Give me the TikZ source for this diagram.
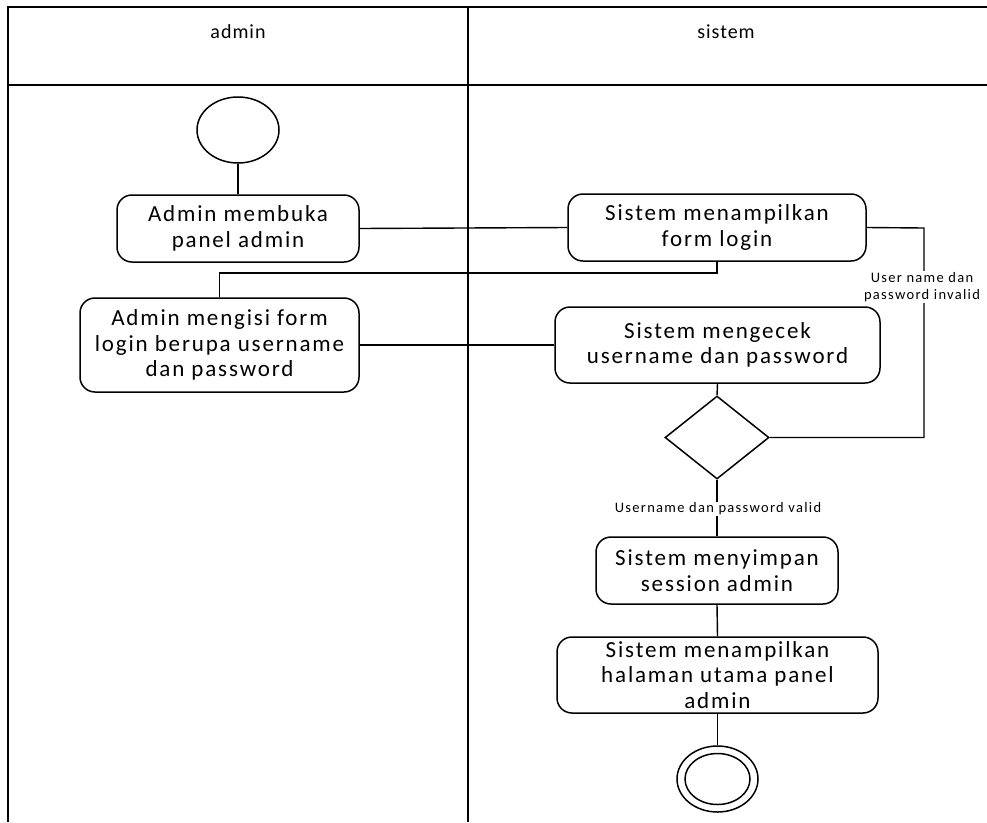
\documentclass[tikz,border=0pt]{standalone}
\usepackage{fontspec}
\setmainfont{Carlito}
\newfontfamily\actfont[LetterSpace=8]{Carlito}
\newfontfamily\titlefont[LetterSpace=5]{Carlito}
\newfontfamily\guardfont[LetterSpace=9]{Carlito}
\usetikzlibrary{shapes.geometric}
\begin{document}
\begin{tikzpicture}[x=1pt,y=-1pt,
  lane/.style={line width=2.4pt},
  act/.style={draw,line width=1.5pt,rounded corners=15pt,align=center,
    font=\actfont\fontsize{23}{25.5}\selectfont,inner sep=0pt},
  flow/.style={line width=1.4pt},
  guard/.style={font=\guardfont\fontsize{14.5}{17}\selectfont,align=center,inner sep=1pt,fill=white},
  lanetitle/.style={font=\titlefont\fontsize{20}{22}\selectfont}
]
\useasboundingbox (0,0) rectangle (987,822);
\fill[white] (0,0) rectangle (987,822);

% swimlanes
\draw[lane] (8,822) -- (8,7) -- (987,7);
\draw[lane] (8,85) -- (987,85);
\draw[lane] (468,7) -- (468,822);
\node[lanetitle] (tadmin) at (238,32) {admin};
\node[lanetitle] (tsistem) at (726,32) {sistem};

% start and end
\node[draw,ellipse,line width=1.5pt,minimum width=82pt,minimum height=66pt,inner sep=0pt] (start) at (238,130) {};
\node[draw,ellipse,line width=1.5pt,minimum width=81pt,minimum height=66pt,inner sep=0pt] (stop) at (717.5,779) {};
\node[draw,ellipse,line width=1.5pt,minimum width=65pt,minimum height=51pt,inner sep=0pt] (stopin) at (717.5,779) {};

% activities
\node[act,minimum width=242pt,minimum height=67pt] (a1) at (238,228.5) {Admin membuka\\panel admin};
\node[act,minimum width=279pt,minimum height=94pt] (a2) at (219.5,345) {Admin mengisi form\\login berupa username\\dan password};
\node[act,minimum width=298pt,minimum height=67pt] (s1) at (717,227.5) {Sistem menampilkan\\form login};
\node[act,minimum width=325pt,minimum height=76pt] (s2) at (717.5,345) {Sistem mengecek\\username dan password};
\node[draw,diamond,line width=1.5pt,minimum width=104pt,minimum height=83pt,inner sep=0pt] (dec) at (717,437.5) {};
\node[act,minimum width=242pt,minimum height=67pt] (s3) at (717,570.5) {Sistem menyimpan\\session admin};
\node[act,minimum width=321pt,minimum height=76pt] (s4) at (717.5,675) {Sistem menampilkan\\halaman utama panel\\admin};

% connectors
\coordinate (j1) at (717,273);
\coordinate (loop) at (924,228);
\draw[flow] (start) -- (a1);
\draw[flow] (a1.east) -- (s1.west);
\draw[flow] (s1.south) -- (j1) -| (a2.north);
\draw[flow] (a2.east) -- (s2.west);
\draw[flow] (s2.south) -- (dec.north);
\draw[flow] (dec.east) -| (loop) -- (s1.east);
\draw[flow] (dec.south) -- (s3.north);
\draw[flow] (s3.south) -- (s4.north);
\draw[flow] (s4.south) -- (stop.north);

% guards
\node[guard] (ginvalid) at (922,287) {User name dan\\password invalid};
\node[guard] (gvalid) at (718,509) {Username dan password valid};
\end{tikzpicture}
\end{document}
